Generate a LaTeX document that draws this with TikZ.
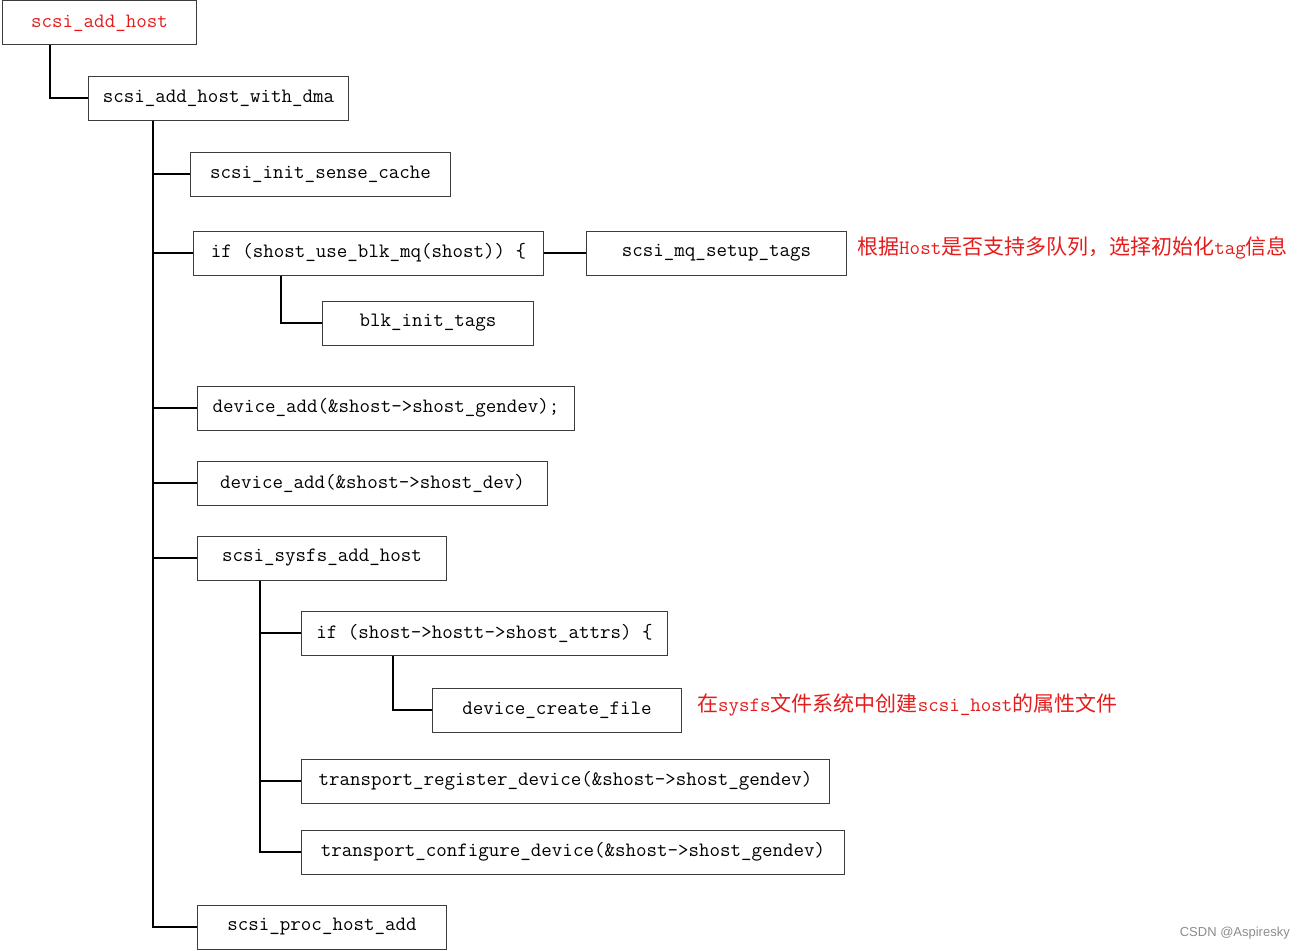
\documentclass[tikz,border=0pt]{standalone}
\usepackage{fontspec}
\setmainfont{Latin Modern Mono}
\newfontfamily\cjk[Scale=1.03]{Noto Sans CJK SC}
\newfontfamily\wmfont{Liberation Sans}
\definecolor{notered}{RGB}{228,28,28}
\definecolor{boxline}{RGB}{60,60,60}

\tikzset{
  box/.style={draw=boxline, line width=1pt, rectangle, anchor=west, minimum height=44, inner sep=0pt, font=\fontsize{20.4}{22}\selectfont},
  link/.style={line width=2pt, black},
  note/.style={anchor=west, inner sep=0pt, text=notered, font=\fontsize{20.4}{22}\selectfont}
}

\begin{document}
\begin{tikzpicture}[x=1pt, y=-1pt]
\useasboundingbox (0,0) rectangle (1305,950);
% Cajas
\node[box, minimum width=194, text=notered] (host) at (2,23) {scsi\_add\_host};
\node[box, minimum width=260] (dma) at (88,98) {scsi\_add\_host\_with\_dma};
\node[box, minimum width=260] (sense) at (190,174) {scsi\_init\_sense\_cache};
\node[box, minimum width=350] (mqif) at (193,253) {if (shost\_use\_blk\_mq(shost)) \{};
\node[box, minimum width=260] (mqsetup) at (586,253) {scsi\_mq\_setup\_tags};
\node[box, minimum width=211] (blkinit) at (322,323) {blk\_init\_tags};
\node[box, minimum width=377] (gendev) at (197,408) {device\_add(\&shost->shost\_gendev);};
\node[box, minimum width=350] (dev) at (197,483) {device\_add(\&shost->shost\_dev)};
\node[box, minimum width=249] (sysfs) at (197,558) {scsi\_sysfs\_add\_host};
\node[box, minimum width=366] (attrs) at (301,633) {if (shost->hostt->shost\_attrs) \{};
\node[box, minimum width=249] (cfile) at (432,710) {device\_create\_file};
\node[box, minimum width=528] (treg) at (301,781) {transport\_register\_device(\&shost->shost\_gendev)};
\node[box, minimum width=543] (tconf) at (301,852) {transport\_configure\_device(\&shost->shost\_gendev)};
\node[box, minimum width=249] (proc) at (197,927) {scsi\_proc\_host\_add};
% Notas
\node[note] (note1) at (857,248) {{\cjk 根据}Host{\cjk 是否支持多队列，选择初始化}tag{\cjk 信息}};
\node[note] (note2) at (697,705) {{\cjk 在}sysfs{\cjk 文件系统中创建}scsi\_host{\cjk 的属性文件}};
% Conexiones
\draw[link] ([xshift=48]host.south west) |- (dma.west);
\foreach \n in {sense,mqif,gendev,dev,sysfs,proc}
  \draw[link] ([xshift=65]dma.south west) |- (\n.west);
\draw[link] (mqif.east) -- (mqsetup.west);
\draw[link] ([xshift=88]mqif.south west) |- (blkinit.west);
\foreach \n in {attrs,treg,tconf}
  \draw[link] ([xshift=63]sysfs.south west) |- (\n.west);
\draw[link] ([xshift=92]attrs.south west) |- (cfile.west);
% Marca de agua
\node[anchor=east, inner sep=0pt, text=black!45, font=\wmfont\fontsize{13}{15}\selectfont] (wm) at (1290,933) {CSDN @Aspiresky};
\end{tikzpicture}
\end{document}
